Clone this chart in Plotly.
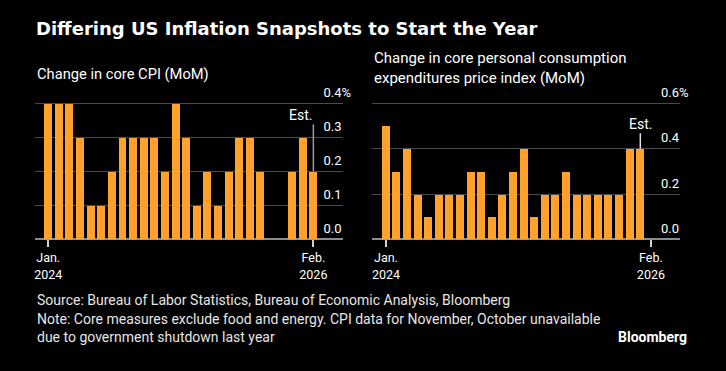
import plotly.graph_objects as go

# ---- data ----
months = ["Jan 2024", "Feb 2024", "Mar 2024", "Apr 2024", "May 2024", "Jun 2024",
          "Jul 2024", "Aug 2024", "Sep 2024", "Oct 2024", "Nov 2024", "Dec 2024",
          "Jan 2025", "Feb 2025", "Mar 2025", "Apr 2025", "May 2025", "Jun 2025",
          "Jul 2025", "Aug 2025", "Sep 2025", "Oct 2025", "Nov 2025", "Dec 2025",
          "Jan 2026", "Feb 2026"]
cpi_mom = [0.4, 0.4, 0.4, 0.3, 0.1, 0.1, 0.2, 0.3, 0.3, 0.3, 0.3, 0.2,
           0.4, 0.3, 0.1, 0.2, 0.1, 0.2, 0.3, 0.3, 0.2, None, None, 0.2,
           0.3, 0.2]
pce_mom = [0.5, 0.3, 0.4, 0.2, 0.1, 0.2, 0.2, 0.2, 0.3, 0.3, 0.1, 0.2,
           0.3, 0.4, 0.1, 0.2, 0.2, 0.3, 0.2, 0.2, 0.2, 0.2, 0.2, 0.4,
           0.4, None]
x_tickvals = ["Jan 2024", "Feb 2026"]
x_ticktext = ["Jan.<br>2024", "Feb.<br>2026"]
cpi_ticks = [0.0, 0.1, 0.2, 0.3, 0.4]
cpi_ticktext = ["0.0", "0.1", "0.2", "0.3", "0.4%"]
pce_ticks = [0.0, 0.2, 0.4, 0.6]
pce_ticktext = ["0.0", "0.2", "0.4", "0.6%"]
cpi_est_month, cpi_est_val = "Feb 2026", 0.2
pce_est_month, pce_est_val = "Jan 2026", 0.4

W, H = 726, 371
FONT = "Roboto, Liberation Sans, sans-serif"
TITLE_FONT = "DejaVu Sans, Verdana, sans-serif"
ORANGE = "#FFA12B"

def px(x):
    return x / W

def py(y):
    return 1 - y / H

fig = go.Figure()
fig.add_trace(go.Bar(x=months, y=cpi_mom, marker_color=ORANGE, marker_line_width=0,
                     width=0.75, xaxis="x", yaxis="y", hoverinfo="skip"))
fig.add_trace(go.Bar(x=months, y=pce_mom, marker_color=ORANGE, marker_line_width=0,
                     width=0.75, xaxis="x2", yaxis="y2", hoverinfo="skip"))

xcommon = dict(type="category", categoryorder="array", categoryarray=months,
               tickvals=x_tickvals, ticktext=x_ticktext, ticks="outside", ticklen=7,
               tickwidth=1.5, tickcolor="#d0d0d0", showgrid=False, showline=False,
               zeroline=False, tickfont=dict(family=FONT, size=12.5, color="#ffffff"),
               ticklabelstandoff=0, fixedrange=True)
ydom = [py(238.7), py(85)]
ycommon = dict(side="right", showgrid=True, gridcolor="#4a4a4a", gridwidth=1,
               zeroline=True, zerolinecolor="#8c8c8c", zerolinewidth=2,
               showline=False, ticks="", tickfont=dict(family=FONT, size=13, color="#ffffff"),
               ticklabelstandoff=-20, ticklabelshift=-11, fixedrange=True, domain=ydom)

fig.update_layout(
    width=W, height=H, margin=dict(l=0, r=0, t=0, b=0),
    paper_bgcolor="#000000", plot_bgcolor="#000000", showlegend=False,
    bargap=0,
    xaxis=dict(xcommon, domain=[px(34), px(342)], range=[-1.25, 27.75], anchor="y"),
    yaxis=dict(ycommon, range=[0, 0.449], tickvals=cpi_ticks, ticktext=cpi_ticktext,
               anchor="x"),
    xaxis2=dict(xcommon, domain=[px(371.7), px(680)], range=[-1.3, 27.75], anchor="y2"),
    yaxis2=dict(ycommon, range=[0, 0.674], tickvals=pce_ticks, ticktext=pce_ticktext,
                anchor="x2"),
)

ann = []
ann.append(dict(text="<b>Differing US Inflation Snapshots to Start the Year</b>",
                xref="paper", yref="paper", x=px(33), y=py(27), xanchor="left",
                yanchor="middle", showarrow=False,
                font=dict(family=TITLE_FONT, size=18, color="#ffffff")))
ann.append(dict(text="Change in core CPI (MoM)", xref="paper", yref="paper",
                x=px(34), y=py(72), xanchor="left", yanchor="middle", showarrow=False,
                font=dict(family=FONT, size=14.7, color="#ffffff")))
ann.append(dict(text="Change in core personal consumption<br>expenditures price index (MoM)",
                xref="paper", yref="paper", x=px(372), y=py(66), xanchor="left",
                yanchor="middle", align="left", showarrow=False,
                font=dict(family=FONT, size=15, color="#ffffff")))
ann.append(dict(text="Source: Bureau of Labor Statistics, Bureau of Economic Analysis, Bloomberg",
                xref="paper", yref="paper", x=px(34), y=py(300), xanchor="left",
                yanchor="middle", showarrow=False,
                font=dict(family=FONT, size=14, color="#e6e6e6")))
ann.append(dict(text="Note: Core measures exclude food and energy. CPI data for November, October unavailable<br>due to government shutdown last year",
                xref="paper", yref="paper", x=px(34), y=py(328), xanchor="left",
                yanchor="middle", align="left", showarrow=False,
                font=dict(family=FONT, size=14, color="#e6e6e6")))
ann.append(dict(text="<b>Bloomberg</b>", xref="paper", yref="paper", x=px(689), y=py(337),
                xanchor="right", yanchor="middle", showarrow=False,
                font=dict(family=FONT, size=14, color="#ffffff")))
# Est. callouts
ann.append(dict(text="Est.", x=cpi_est_month, y=cpi_est_val, xref="x", yref="y",
                showarrow=True, arrowhead=0, arrowwidth=1.5, arrowcolor="#9a9a9a",
                ax=0, ay=-47, xanchor="right", yanchor="bottom", borderpad=0,
                font=dict(family=FONT, size=14, color="#ffffff")))
ann.append(dict(text="Est.", x=pce_est_month, y=pce_est_val, xref="x2", yref="y2",
                showarrow=True, arrowhead=0, arrowwidth=1.5, arrowcolor="#e0e0e0",
                ax=0, ay=-15.5, xanchor="center", yanchor="bottom", borderpad=0,
                font=dict(family=FONT, size=14, color="#ffffff")))
fig.update_layout(annotations=ann)

post = (
    "var d=document.querySelector('.plotly-graph-div');"
    "var p=d.parentElement;p.style.fontSize='0';p.style.lineHeight='0';"
    "p.style.height='371px';p.style.overflow='hidden';"
    "document.body.style.cssText='margin:0;padding:0;overflow:hidden;height:371px;background:#000';"
    "document.documentElement.style.cssText='margin:0;padding:0;overflow:hidden;height:371px;background:#000';"
)
fig.write_html("out.html", config={"displayModeBar": False}, post_script=post)
